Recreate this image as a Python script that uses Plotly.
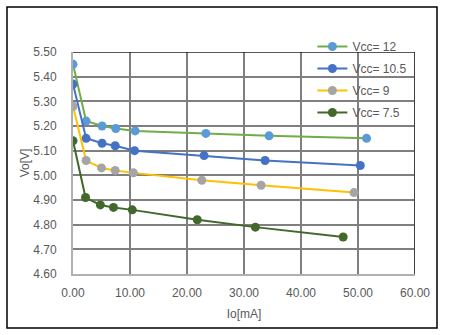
import plotly.graph_objects as go

# Output current Io [mA] and output voltage Vo [V] per supply voltage
io_12 = [0.0, 2.3, 5.1, 7.5, 10.9, 23.3, 34.4, 51.5]
vo_12 = [5.45, 5.22, 5.20, 5.19, 5.18, 5.17, 5.16, 5.15]

io_105 = [0.0, 2.3, 5.1, 7.4, 10.8, 23.0, 33.7, 50.4]
vo_105 = [5.37, 5.15, 5.13, 5.12, 5.10, 5.08, 5.06, 5.04]

io_9 = [0.0, 2.3, 5.0, 7.4, 10.6, 22.6, 33.0, 49.3]
vo_9 = [5.28, 5.06, 5.03, 5.02, 5.01, 4.98, 4.96, 4.93]

io_75 = [0.0, 2.2, 4.8, 7.1, 10.4, 21.8, 32.0, 47.4]
vo_75 = [5.14, 4.91, 4.88, 4.87, 4.86, 4.82, 4.79, 4.75]

series_names = ["Vcc= 12", "Vcc= 10.5", "Vcc= 9", "Vcc= 7.5"]
line_colors = ["#70ad47", "#4472c4", "#ffc000", "#43682b"]
marker_colors = ["#5b9bd5", "#4472c4", "#a5a5a5", "#43682b"]

x_ticks = [0, 10, 20, 30, 40, 50, 60]
y_ticks = [4.6, 4.7, 4.8, 4.9, 5.0, 5.1, 5.2, 5.3, 5.4, 5.5]

fig = go.Figure()
for xs, ys, name, lc, mc in zip(
    [io_12, io_105, io_9, io_75],
    [vo_12, vo_105, vo_9, vo_75],
    series_names, line_colors, marker_colors,
):
    fig.add_trace(go.Scatter(
        x=xs, y=ys, name=name, mode="lines+markers", legendgroup=name,
        line=dict(color=lc, width=2),
        marker=dict(color=mc, size=9),
    ))

text_font = dict(family="Liberation Sans, Arial, sans-serif", size=12, color="#595959")

fig.update_layout(
    width=450, height=335,
    margin=dict(l=73, r=35, t=52, b=61),
    paper_bgcolor="white",
    plot_bgcolor="white",
    showlegend=True,
    legend=dict(
        x=0.70, y=1.09, xanchor="left", yanchor="top",
        xref="paper", yref="paper",
        bgcolor="rgba(0,0,0,0)",
        font=text_font,
        itemwidth=30, tracegroupgap=3,
    ),
    xaxis=dict(
        range=[0, 60], tickvals=x_ticks,
        ticktext=[f"{v:.2f}" for v in x_ticks],
        showgrid=True, gridcolor="#7f7f7f", gridwidth=1.5,
        showline=True, linecolor="#b0b0b0", linewidth=2,
        zeroline=False, ticks="", tickfont=text_font, ticklabelstandoff=7,
        title=dict(text="Io[mA]", font=text_font, standoff=10),
    ),
    yaxis=dict(
        range=[4.6, 5.5], tickvals=y_ticks,
        ticktext=[f"{v:.2f}" for v in y_ticks],
        showgrid=True, gridcolor="#7f7f7f", gridwidth=1.5,
        showline=True, linecolor="#b0b0b0", linewidth=2,
        zeroline=False, ticks="", tickfont=text_font, ticklabelstandoff=12,
        title=dict(text="Vo[V]", font=text_font, standoff=1),
    ),
)

# Plot area frame: dark right edge and top edge
fig.add_shape(type="line", xref="x", yref="y", x0=60, x1=60, y0=4.6, y1=5.5,
              line=dict(color="#404040", width=2))
fig.add_shape(type="line", xref="x", yref="y", x0=0, x1=60, y0=5.5, y1=5.5,
              line=dict(color="#202020", width=1.5))

# Outer chart border
fig.add_shape(type="rect", xref="paper", yref="paper",
              x0=-66 / 342, x1=364 / 342, y0=-54 / 222, y1=1 + 45 / 222,
              line=dict(color="#000000", width=1.5), fillcolor="rgba(0,0,0,0)")

fig.write_html("out.html")
